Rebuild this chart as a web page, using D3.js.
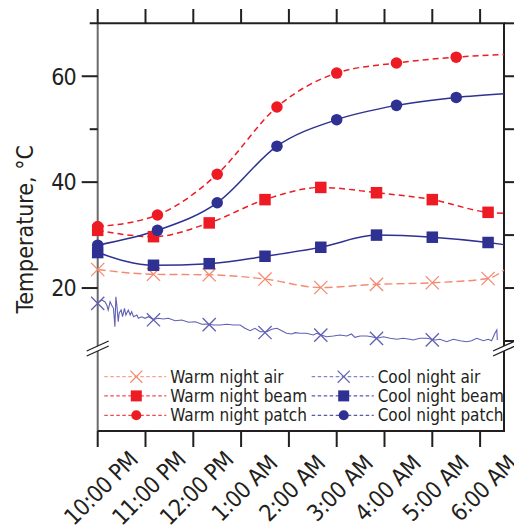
<!DOCTYPE html>
<html>
<head>
<meta charset="utf-8">
<script src="https://cdn.jsdelivr.net/npm/d3@7"></script>
<style>
  body { margin: 0; background: #fff; }
  text { font-family: 'DejaVu Sans Condensed', 'DejaVu Sans', sans-serif; font-stretch: condensed; fill: #231f20; }
</style>
</head>
<body>
<div id="chart"></div>
<script>
// temperatures through the night, warm vs cool

const hourLabels = ['10:00 PM', '11:00 PM', '12:00 PM', '1:00 AM', '2:00 AM', '3:00 AM', '4:00 AM', '5:00 AM', '6:00 AM']
const yTicks = [20, 40, 60]

// hours after 10 PM
const patchHours = [0, 1.25, 2.5, 3.75, 5, 6.25, 7.5]
const beamHours = [0, 1.167, 2.333, 3.5, 4.667, 5.833, 7, 8.167]
const airHours = [0, 1.167, 2.333, 3.5, 4.667, 5.833, 7]
const endHour = 8.5

const warmPatch = [31.6, 33.8, 41.5, 54.2, 60.6, 62.5, 63.6]
const coolPatch = [28.1, 30.9, 36.1, 46.8, 51.8, 54.5, 56.0]
const warmBeam = [30.9, 29.7, 32.3, 36.7, 39.0, 38.0, 36.7, 34.3]
const coolBeam = [26.7, 24.3, 24.6, 26.0, 27.7, 30.0, 29.6, 28.6]
const warmAir = [23.5, 22.6, 22.5, 21.7, 20.1, 20.7, 21.0, 21.8]
const coolAirMarks = [17.1, 14.0, 13.1, 11.6, 11.1, 10.5, 10.2]
// value of each fitted line at the right edge
const lineEnds = { warmPatch: 64.1, coolPatch: 56.7, warmBeam: 34.1, coolBeam: 28.2, warmAir: 23.4 }

// raw cool night air record
const coolAirHours = [0, 0.08, 0.15, 0.19, 0.22, 0.26, 0.29, 0.33, 0.36, 0.38, 0.4, 0.43, 0.45, 0.49, 0.52,
  0.56, 0.59, 0.64, 0.68, 0.71, 0.75, 0.82, 0.85, 0.92, 0.99, 1.06, 1.16, 1.27, 1.37, 1.48, 1.62, 1.76,
  1.9, 2.04, 2.18, 2.31, 2.42, 2.56, 2.7, 2.84, 2.98, 3.08, 3.19, 3.29, 3.4, 3.54, 3.64, 3.75, 3.85, 3.95,
  4.06, 4.13, 4.23, 4.37, 4.51, 4.58, 4.67, 4.79, 4.93, 5.07, 5.21, 5.31, 5.38, 5.49, 5.63, 5.73, 5.84,
  5.98, 6.12, 6.26, 6.39, 6.53, 6.6, 6.74, 6.88, 7.06, 7.16, 7.3, 7.44, 7.58, 7.72, 7.82, 7.93, 8.07,
  8.17, 8.24, 8.31, 8.35, 8.36]
const coolAirTemps = [17.17, 17.74, 17.42, 16.79, 15.85, 17.42, 16.79, 16.17, 12.7, 18.36, 16.79, 13.64,
  15.28, 15.85, 14.58, 16.17, 14.91, 15.85, 14.91, 15.53, 14.58, 14.91, 14.28, 14.58, 14.28, 14.58, 14.09,
  14.28, 14.15, 14.28, 13.83, 13.96, 13.53, 13.64, 13.15, 13.21, 13.02, 13.02, 13.15, 13.02, 13.02, 12.4,
  11.94, 12.4, 11.75, 11.75, 12.21, 12.4, 11.94, 11.45, 11.32, 11.57, 11.45, 11.45, 11.13, 11.45, 11.13,
  10.81, 10.94, 11.13, 10.94, 11.32, 10.7, 10.94, 10.94, 10.81, 10.51, 10.81, 10.51, 10.32, 10.51, 10.32,
  10.19, 10.51, 10.51, 10.19, 10.32, 9.87, 10.32, 10.06, 9.87, 10.06, 10.51, 10.06, 10.32, 10.06, 11.45,
  12.08, 10.19]

const legendItems = [
  { label: 'Warm night air', color: '#f58a70', mark: 'x', col: 0 },
  { label: 'Warm night beam', color: '#ed1c24', mark: 'square', col: 0 },
  { label: 'Warm night patch', color: '#ed1c24', mark: 'circle', col: 0 },
  { label: 'Cool night air', color: '#6767b8', mark: 'x', col: 1 },
  { label: 'Cool night beam', color: '#2e3192', mark: 'square', col: 1 },
  { label: 'Cool night patch', color: '#2e3192', mark: 'circle', col: 1 }
]

const width = 514
const height = 529
const plot = { left: 97.7, right: 504, top: 23.3, bottom: 431 }

const svg = d3.select('#chart').append('svg').attr('width', width).attr('height', height)

const x = d3.scaleLinear().domain([0, endHour]).range([plot.left, plot.right])
const y = d3.scaleLinear().domain([-7, 70]).range([plot.bottom, plot.top])

const red = '#ed1c24'
const navy = '#2e3192'
const salmon = '#f58a70'
const slate = '#6060b4'
const ink = '#231f20'

// frame
svg.append('line').attr('x1', plot.left).attr('x2', plot.left).attr('y1', plot.top).attr('y2', plot.bottom)
  .attr('stroke', '#6a6a6a').attr('stroke-width', 2)
svg.append('line').attr('x1', plot.left - 8).attr('x2', plot.right + 1).attr('y1', plot.top).attr('y2', plot.top)
  .attr('stroke', ink).attr('stroke-width', 2)
svg.append('line').attr('x1', plot.right).attr('x2', plot.right).attr('y1', plot.top).attr('y2', plot.bottom + 1)
  .attr('stroke', ink).attr('stroke-width', 2)
svg.append('line').attr('x1', plot.left).attr('x2', plot.right + 1).attr('y1', plot.bottom).attr('y2', plot.bottom)
  .attr('stroke', ink).attr('stroke-width', 2)

// hour ticks top and bottom
const hours = d3.range(hourLabels.length)
svg.append('g').selectAll('line').data(hours).join('line')
  .attr('x1', d => x(d)).attr('x2', d => x(d)).attr('y1', plot.top).attr('y2', 9)
  .attr('stroke', ink).attr('stroke-width', 2)
svg.append('g').selectAll('line').data(hours).join('line')
  .attr('x1', d => x(d)).attr('x2', d => x(d)).attr('y1', plot.bottom).attr('y2', plot.bottom + 16)
  .attr('stroke', ink).attr('stroke-width', 2)
svg.append('g').selectAll('text').data(hourLabels).join('text')
  .text(d => d)
  .attr('text-anchor', 'middle')
  .attr('dy', '0.36em')
  .attr('font-size', 23)
  .attr('letter-spacing', -0.5)
  .attr('transform', (d, i) => 'translate(' + (x(i) + 3) + ',488) rotate(-45)')

// left ticks
svg.append('g').selectAll('line').data(yTicks).join('line')
  .attr('x1', plot.left - 16).attr('x2', plot.left).attr('y1', d => y(d)).attr('y2', d => y(d))
  .attr('stroke', ink).attr('stroke-width', 2)
svg.append('g').selectAll('line').data([50]).join('line')
  .attr('x1', plot.left - 8).attr('x2', plot.left).attr('y1', d => y(d)).attr('y2', d => y(d))
  .attr('stroke', ink).attr('stroke-width', 2)
svg.append('g').selectAll('text').data(yTicks).join('text')
  .text(d => d)
  .attr('x', plot.left - 22).attr('y', d => y(d))
  .attr('dy', '0.36em')
  .attr('text-anchor', 'end')
  .attr('font-size', 23)
  .attr('letter-spacing', -1)

// right ticks
svg.append('g').selectAll('line').data(d3.range(10, 71, 10)).join('line')
  .attr('x1', plot.right).attr('x2', plot.right + 10).attr('y1', d => y(d)).attr('y2', d => y(d))
  .attr('stroke', ink).attr('stroke-width', 2)

svg.append('text')
  .text('Temperature, °C')
  .attr('transform', 'translate(33,' + y(31.1) + ') rotate(-90)')
  .attr('text-anchor', 'middle')
  .attr('font-size', 23)

// axis breaks
function axisBreak (cx, cy) {
  const g = svg.append('g')
  g.append('polygon')
    .attr('points', [[cx - 11, cy + 7], [cx + 11, cy - 3], [cx + 11, cy - 8], [cx - 11, cy + 2]].join(' '))
    .attr('fill', '#fff')
  g.selectAll('line').data([-2.5, 2.5]).join('line')
    .attr('x1', cx - 11).attr('x2', cx + 11)
    .attr('y1', d => cy + 4.5 + d).attr('y2', d => cy - 5.5 + d)
    .attr('stroke', ink).attr('stroke-width', 1.3)
}
axisBreak(plot.left, 349)
axisBreak(plot.right, 349)

// lines
const line = d3.line().x(d => x(d[0])).y(d => y(d[1]))

function withEnd (hrs, vals, endVal) {
  const pts = hrs.map((h, i) => [h, vals[i]])
  if (endVal !== undefined) pts.push([endHour, endVal])
  return pts
}

const lines = [
  { pts: withEnd(beamHours, warmAir, lineEnds.warmAir), color: salmon, dash: '8,4', w: 1.4 },
  { pts: withEnd(beamHours, coolBeam, lineEnds.coolBeam), color: navy, dash: null, w: 1.5 },
  { pts: withEnd(beamHours, warmBeam, lineEnds.warmBeam), color: red, dash: '6,4', w: 1.5 },
  { pts: withEnd(patchHours, coolPatch, lineEnds.coolPatch), color: navy, dash: null, w: 1.5 },
  { pts: withEnd(patchHours, warmPatch, lineEnds.warmPatch), color: red, dash: '6,4', w: 1.5 }
]

svg.append('g').selectAll('path').data(lines).join('path')
  .attr('d', d => line.curve(d3.curveMonotoneX)(d.pts))
  .attr('fill', 'none')
  .attr('stroke', d => d.color)
  .attr('stroke-width', d => d.w)
  .attr('stroke-dasharray', d => d.dash)

svg.append('path')
  .attr('d', line.curve(d3.curveLinear)(coolAirHours.map((h, i) => [h, coolAirTemps[i]])))
  .attr('fill', 'none')
  .attr('stroke', slate)
  .attr('stroke-width', 1.1)

// markers
function drawMark (g, kind, color, cx, cy, s) {
  if (kind === 'circle') {
    g.append('circle').attr('cx', cx).attr('cy', cy).attr('r', s * 0.48).attr('fill', color)
  } else if (kind === 'square') {
    g.append('rect').attr('x', cx - s / 2).attr('y', cy - s / 2).attr('width', s).attr('height', s).attr('fill', color)
  } else {
    const h = s * 0.55
    g.append('path')
      .attr('d', 'M' + (cx - h) + ',' + (cy - h) + 'L' + (cx + h) + ',' + (cy + h) +
        'M' + (cx - h) + ',' + (cy + h) + 'L' + (cx + h) + ',' + (cy - h))
      .attr('stroke', color).attr('stroke-width', 1.3).attr('fill', 'none')
  }
}

const mg = svg.append('g')
airHours.forEach((h, i) => drawMark(mg, 'x', slate, x(h), y(coolAirMarks[i]), 12))
beamHours.forEach((h, i) => drawMark(mg, 'x', salmon, x(h), y(warmAir[i]), 12))
beamHours.forEach((h, i) => drawMark(mg, 'square', navy, x(h), y(coolBeam[i]), 11.5))
beamHours.forEach((h, i) => drawMark(mg, 'square', red, x(h), y(warmBeam[i]), 11.5))
patchHours.forEach((h, i) => drawMark(mg, 'circle', navy, x(h), y(coolPatch[i]), 12))
patchHours.forEach((h, i) => drawMark(mg, 'circle', red, x(h), y(warmPatch[i]), 12))

// legend
const lg = svg.append('g')
const colX = [104.3, 311.7]
const rowY = [376.7, 395.9, 415.3]
legendItems.forEach((d, i) => {
  const lx = colX[d.col]
  const ly = rowY[i % 3]
  lg.append('line').attr('x1', lx).attr('x2', lx + 62).attr('y1', ly).attr('y2', ly)
    .attr('stroke', d.color).attr('stroke-width', 1).attr('stroke-dasharray', '3.5,2.5')
  drawMark(lg, d.mark, d.color, lx + 32, ly, d.mark === 'circle' ? 10.5 : 11)
  lg.append('text').text(d.label)
    .attr('x', lx + 66).attr('y', ly)
    .attr('dy', '0.36em')
    .attr('font-size', 17)
})
</script>
</body>
</html>
